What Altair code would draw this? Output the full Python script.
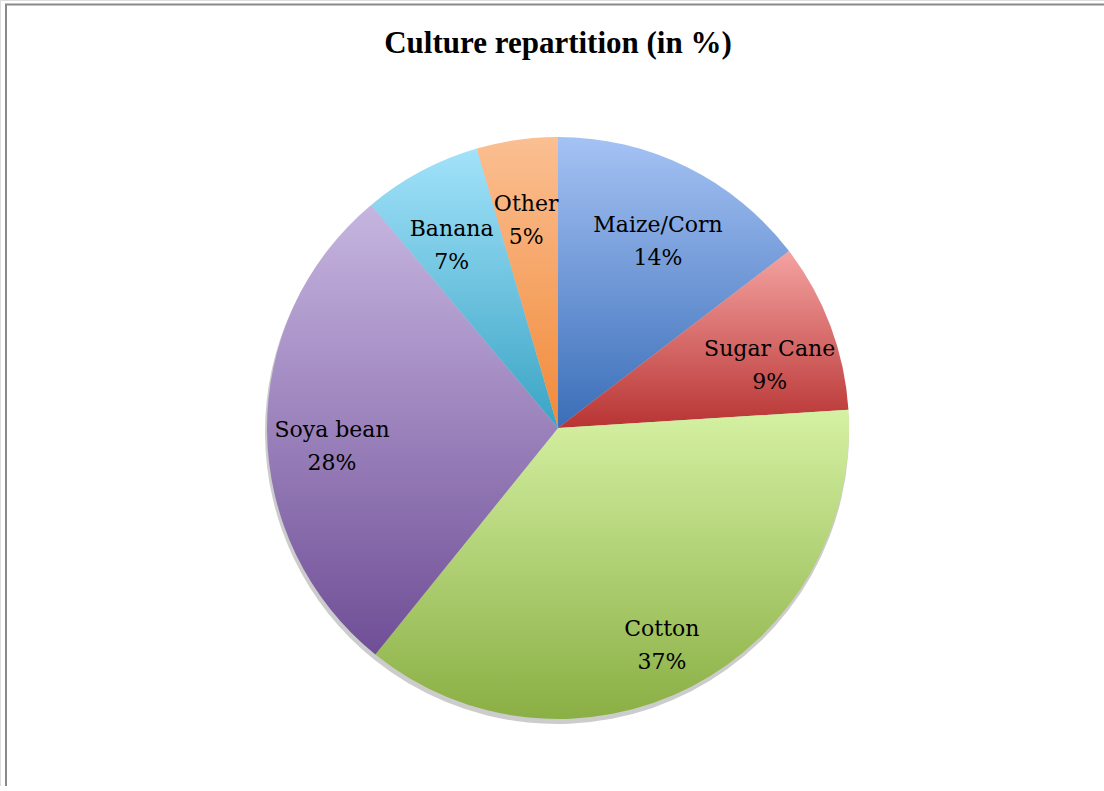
import altair as alt
import pandas as pd

crops = ["Maize/Corn", "Sugar Cane", "Cotton", "Soya bean", "Banana", "Other"]
values = [14.6, 9.4, 36.8, 28.1, 6.6, 4.5]
pct_labels = ["14%", "9%", "37%", "28%", "7%", "5%"]
top_colors = ["#A5C2F4", "#F4A3A1", "#D5F1A3", "#C6B5E0", "#A2E2FA", "#FBBF92"]
bottom_colors = ["#3A6EB8", "#B83433", "#8AAF44", "#6F4E96", "#3AA4C4", "#F18A3A"]

df = pd.DataFrame({
    "crop": crops,
    "value": values,
    "pct": pct_labels,
    "idx": list(range(len(crops))),
})
df["label"] = [[c, p] for c, p in zip(crops, pct_labels)]

CX, CY, R = 558, 428, 291


def grad(top, bottom):
    return {
        "gradient": "linear",
        "x1": 0, "y1": 0, "x2": 0, "y2": 1,
        "stops": [{"offset": 0, "color": top}, {"offset": 1, "color": bottom}],
    }


conds = [
    {"test": f"datum.crop === '{c}'", "value": grad(t, b)}
    for c, t, b in zip(crops[:-1], top_colors[:-1], bottom_colors[:-1])
]
fill_def = alt.FillValue(condition=conds, value=grad(top_colors[-1], bottom_colors[-1]))

base = alt.Chart(df)

shadow = base.mark_arc(outerRadius=R + 1, color="#000000", opacity=0.2).encode(
    theta=alt.Theta("value:Q", stack=True),
    order=alt.Order("idx:Q"),
    x=alt.value(CX - 1), y=alt.value(CY + 4),
)

pie = base.mark_arc(outerRadius=R).encode(
    theta=alt.Theta("value:Q", stack=True),
    order=alt.Order("idx:Q"),
    fill=fill_def,
    x=alt.value(CX), y=alt.value(CY),
)

labels = base.mark_text(
    radius=226, font="DejaVu Serif", fontSize=22, color="#000000",
    lineHeight=33, align="center", baseline="middle",
).encode(
    theta=alt.Theta("value:Q", stack=True),
    order=alt.Order("idx:Q"),
    text="label",
    x=alt.value(CX), y=alt.value(CY),
)

title = alt.Chart(pd.DataFrame({"t": ["Culture repartition (in %)"]})).mark_text(
    font="Liberation Serif", fontSize=31, fontWeight="bold", color="#000000",
    align="center", baseline="alphabetic",
).encode(text="t:N", x=alt.value(CX), y=alt.value(53))

frame_left = alt.Chart(pd.DataFrame({"a": [0]})).mark_rule(color="#8A8A8A", strokeWidth=2).encode(
    x=alt.value(6), y=alt.value(4), y2=alt.value(800)
)
frame_top = alt.Chart(pd.DataFrame({"a": [0]})).mark_rule(color="#8A8A8A", strokeWidth=2).encode(
    x=alt.value(5), x2=alt.value(1110), y=alt.value(4.5)
)

chart = alt.layer(frame_left, frame_top, shadow, pie, labels, title).properties(
    width=1104, height=786, autosize=alt.AutoSizeParams(type="none"), padding=0,
).configure_view(stroke=None).configure(background="white")

chart.save("out.html", embed_options={"renderer": "svg", "actions": False})
